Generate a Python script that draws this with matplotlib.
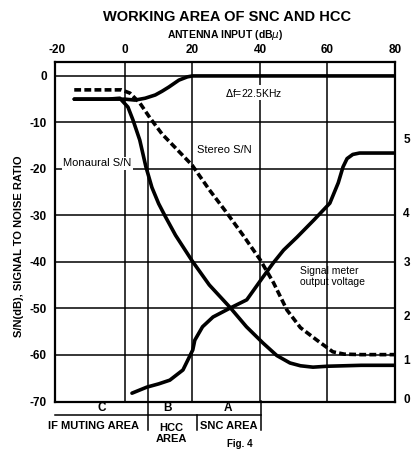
import numpy as np
import matplotlib
matplotlib.use('Agg')
import matplotlib.pyplot as plt

plt.rcParams['font.family'] = ['Liberation Sans', 'DejaVu Sans']
plt.rcParams['axes.unicode_minus'] = False

# antenna input (dBu) and S/N (dB)
mono_x = [-15, -10, -5, -1.5, 0.9, 2.4, 4.4, 6.2, 8, 10, 12, 15, 19.9, 25, 31.1, 36, 40.9, 45, 48.9, 52, 55.7, 60, 70, 80]
mono_y = [-5, -5, -5, -4.8, -6.7, -9.5, -13.8, -19.5, -24, -27.5, -30.3, -34.3, -39.8, -45, -49.8, -54, -57.5, -60.2, -61.8, -62.4, -62.7, -62.5, -62.3, -62.3]

stereo_x = [-15, -10, -5, -1, 1.5, 4.4, 7.4, 11, 15, 19.9, 25, 30.2, 35, 40, 44, 48, 52, 56.9, 61.6, 65, 70, 80]
stereo_y = [-3, -3, -3, -3, -3.7, -5.8, -9, -12.5, -15.5, -19.2, -24.5, -29.5, -34.3, -39.5, -44.5, -50.4, -54.2, -56.9, -59.4, -59.9, -60, -60]

output_x = [-15, -5, 0, 3, 6, 9, 11, 13, 16, 18.5, 20, 40, 60, 80]
output_y = [-5, -5, -5, -5.2, -4.8, -4.1, -3.3, -2.4, -0.9, -0.2, 0, 0, 0, 0]

# signal meter output voltage, drawn in the same vertical units as the S/N scale
meter_x = [2.1, 6.5, 10, 13.3, 17.2, 20.1, 20.7, 23, 26.1, 31.1, 36.1, 40.9, 43.9, 47, 51, 56, 60.7, 63.2, 64.6, 65.8, 67.5, 69.5, 72, 80]
meter_y = [-68.3, -67, -66.3, -65.5, -63.3, -59, -56.9, -54, -51.9, -50, -48.2, -43.3, -40.3, -37.5, -34.7, -31, -27.4, -23, -19.6, -17.8, -16.9, -16.6, -16.6, -16.6]
meter_tick_pos = [-69.5, -61, -51.5, -40, -29.5, -13.5]
meter_tick_lbl = ['0', '1', '2', '3', '4', '5']

x_ticks = [-20, 0, 20, 40, 60, 80]
y_ticks = [0, -10, -20, -30, -40, -50, -60, -70]

fig = plt.figure(figsize=(4.19, 4.54), dpi=100)
ax = fig.add_axes([55 / 419, 52 / 454, 340 / 419, 340 / 454])
ax.set_xlim(-20.7, 80)
ax.set_ylim(-70.2, 3)

# grid
for gx in [0, 20, 40, 60]:
    ax.axvline(gx, color='k', lw=1.1, zorder=1)
for gy in [0, -10, -20, -30, -40, -50, -60]:
    ax.axhline(gy, color='k', lw=1.1, zorder=1)
for s in ax.spines.values():
    s.set_linewidth(1.6)

lw = 2.6
ax.plot(mono_x, mono_y, color='k', lw=lw, solid_capstyle='round', solid_joinstyle='round', zorder=3)
ax.plot(output_x, output_y, color='k', lw=lw, solid_capstyle='round', solid_joinstyle='round', zorder=3)
ax.plot(stereo_x, stereo_y, color='k', lw=lw, linestyle=(0, (1.9, 0.9)), zorder=3)
ax.plot(meter_x, meter_y, color='k', lw=lw, solid_capstyle='round', solid_joinstyle='round', zorder=3)

ax.xaxis.tick_top()
ax.set_xticks(x_ticks)
ax.set_yticks(y_ticks)
ax.tick_params(length=0, labelsize=8.5)
ax.tick_params(axis='x', pad=4)
ax.tick_params(axis='y', pad=6)
for t in ax.get_xticklabels() + ax.get_yticklabels():
    t.set_fontweight('bold')

ax2 = ax.twinx()
ax2.set_ylim(ax.get_ylim())
ax2.set_yticks(meter_tick_pos)
ax2.set_yticklabels(meter_tick_lbl, fontweight='bold')
ax2.tick_params(length=0, labelsize=8.5, pad=6)
for s in ax2.spines.values():
    s.set_visible(False)

fig.text(0.542, 1 - 17 / 454, 'WORKING AREA OF SNC AND HCC', ha='center', va='center',
         fontsize=10.5, fontweight='bold')
fig.text(0.537, 1 - 35 / 454, 'ANTENNA INPUT (dB$\\mu$)', ha='center', va='center',
         fontsize=7.5, fontweight='bold')
fig.text(19 / 419, 1 - 246 / 454, 'S/N(dB), SIGNAL TO NOISE RATIO', ha='center', va='center',
         rotation=90, fontsize=8, fontweight='bold')

# curve labels
wb = dict(facecolor='white', edgecolor='none', pad=1)
ax.text(-8.1, -18.8, 'Monaural S/N', ha='center', va='center', fontsize=8, bbox=wb, zorder=4)
ax.text(21.5, -16, 'Stereo S/N', ha='left', va='center', fontsize=8, zorder=4)
ax.text(29.6, -3.6, '$\\Delta$f=22.5KHz', ha='left', va='center', fontsize=7.5, bbox=wb, zorder=4)
ax.text(52, -43.2, 'Signal meter\noutput voltage', ha='left', va='center', fontsize=7.5,
        linespacing=1.15, zorder=4)

# working areas below the chart
ax.plot([6.8, 6.8], [-10, -76.2], color='k', lw=1.1, clip_on=False, zorder=1)
ax.plot([21.3, 21.3], [-73, -76.2], color='k', lw=1.1, clip_on=False)
ax.plot([40.4, 40.4], [-70, -76.2], color='k', lw=1.1, clip_on=False)
ax.plot([-20.7, 40.4], [-73, -73], color='k', lw=1.1, clip_on=False)
for lx, lt in [(-6.8, 'C'), (12.7, 'B'), (30.5, 'A')]:
    ax.text(lx, -71.4, lt, ha='center', va='center', fontsize=8.5, fontweight='bold')
ax.text(-9.3, -75.3, 'IF MUTING AREA', ha='center', va='center', fontsize=8, fontweight='bold')
ax.text(13.8, -76.9, 'HCC\nAREA', ha='center', va='center', fontsize=8, fontweight='bold',
        linespacing=1.1)
ax.text(30.8, -75.3, 'SNC AREA', ha='center', va='center', fontsize=8, fontweight='bold')
ax.text(34, -79.2, 'Fig. 4', ha='center', va='center', fontsize=7, fontweight='bold')

fig.savefig('out.png', dpi=100)
